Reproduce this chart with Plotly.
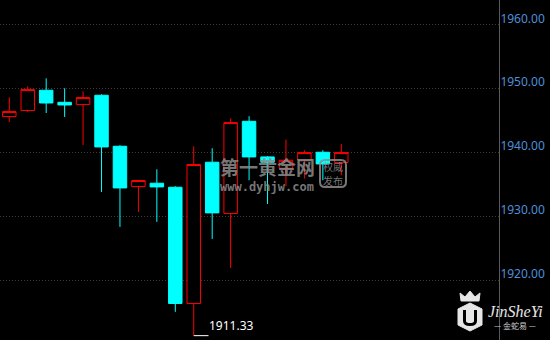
import plotly.graph_objects as go

# ---- data ----
idx = list(range(19))
opens  = [1945.58, 1946.52, 1949.69, 1947.81, 1947.45, 1948.91, 1940.94, 1934.64, 1935.16, 1934.53,
          1916.36, 1938.44, 1930.42, 1944.84, 1939.27, 1937.50, 1938.75, 1940.00, 1938.39]
highs  = [1948.59, 1950.31, 1951.56, 1950.00, 1949.53, 1949.06, 1941.09, 1935.58, 1937.34, 1934.69,
          1940.94, 1940.63, 1945.27, 1945.63, 1939.40, 1941.98, 1940.31, 1940.31, 1941.30]
lows   = [1944.73, 1946.30, 1946.14, 1945.52, 1941.14, 1933.80, 1928.33, 1930.67, 1929.11, 1915.05,
          1911.33, 1926.45, 1921.92, 1935.63, 1931.92, 1934.70, 1935.90, 1935.63, 1936.40]
closes = [1946.36, 1949.80, 1947.70, 1947.39, 1948.55, 1940.83, 1934.42, 1935.58, 1934.58, 1916.36,
          1938.08, 1930.52, 1944.64, 1939.27, 1938.44, 1938.75, 1939.95, 1938.17, 1939.95]
tick_vals = [1920, 1930, 1940, 1950, 1960]
tick_text = ["1920.00", "1930.00", "1940.00", "1950.00", "1960.00"]
low_label = "1911.33"

RED = "#ff0000"
CYAN = "#00ffff"

fig = go.Figure()
fig.add_trace(go.Candlestick(
    x=idx, open=opens, high=highs, low=lows, close=closes,
    increasing=dict(line=dict(color=RED, width=1), fillcolor="#000000"),
    decreasing=dict(line=dict(color=CYAN, width=1), fillcolor=CYAN),
    whiskerwidth=0, hoverinfo="skip", showlegend=False,
))

# low marker
imin = lows.index(min(lows))
fig.add_shape(type="line", xref="x", yref="y", x0=imin, x1=imin + 0.8,
              y0=min(lows), y1=min(lows), line=dict(color="#ffffff", width=1))
fig.add_annotation(x=imin + 0.8, y=min(lows), xref="x", yref="y", text=low_label,
                   showarrow=False, xanchor="left", yanchor="bottom", xshift=-2, yshift=0,
                   font=dict(family="Noto Sans", size=12, color="#ffffff"))

# watermark
wm = "rgba(140,140,140,0.85)"
def px(x):
    return x / 499.0
def py(y):
    return 1 - y / 340.0
def ann(x, y, text, yanchor="middle", **font):
    fig.add_annotation(x=px(x), y=py(y), xref="paper", yref="paper", text=text,
                       showarrow=False, xanchor="center", yanchor=yanchor, borderpad=0,
                       font=font)

ann(267, 166, "<b>第一黄金网</b>", family="Noto Sans CJK SC", size=19, color=wm)
ann(267, 187, "<b>www.dyhjw.com</b>", family="DejaVu Sans Mono", size=12, color=wm)
x0, x1, y0, y1, r = 320, 346, 160, 187, 5
fig.add_shape(type="path", xref="paper", yref="paper",
              path=(f"M {px(x0+r)},{py(y0)} L {px(x1-r)},{py(y0)} Q {px(x1)},{py(y0)} {px(x1)},{py(y0+r)} "
                    f"L {px(x1)},{py(y1-r)} Q {px(x1)},{py(y1)} {px(x1-r)},{py(y1)} "
                    f"L {px(x0+r)},{py(y1)} Q {px(x0)},{py(y1)} {px(x0)},{py(y1-r)} "
                    f"L {px(x0)},{py(y0+r)} Q {px(x0)},{py(y0)} {px(x0+r)},{py(y0)} Z"),
              line=dict(color=wm, width=2), layer="above")
ann(333, 166.5, "权威", family="Noto Sans CJK SC", size=10, color=wm)
ann(333, 180.5, "发布", family="Noto Sans CJK SC", size=10, color=wm)

# logo bottom right
LG = "#e6e6e6"
fig.add_shape(type="path", xref="paper", yref="paper",
              path=(f"M {px(470)},{py(303)} L {px(482)},{py(309)} L {px(482)},{py(325)} L {px(470)},{py(331)} "
                    f"L {px(458)},{py(325)} L {px(458)},{py(309)} Z"),
              fillcolor=LG, line=dict(color=LG, width=1), layer="above")
fig.add_shape(type="path", xref="paper", yref="paper",
              path=(f"M {px(463)},{py(310)} L {px(463)},{py(321)} Q {px(463)},{py(326)} {px(470)},{py(326)} "
                    f"Q {px(477)},{py(326)} {px(477)},{py(321)} L {px(477)},{py(310)} L {px(474)},{py(310)} "
                    f"L {px(474)},{py(321)} Q {px(474)},{py(323)} {px(470)},{py(323)} Q {px(466)},{py(323)} "
                    f"{px(466)},{py(321)} L {px(466)},{py(310)} Z"),
              fillcolor="#000000", line=dict(color="#000000", width=0), layer="above")
fig.add_shape(type="path", xref="paper", yref="paper",
              path=(f"M {px(461)},{py(301)} L {px(460)},{py(293)} L {px(465)},{py(297)} L {px(470)},{py(291)} "
                    f"L {px(475)},{py(297)} L {px(480)},{py(293)} L {px(479)},{py(301)} Z"),
              fillcolor=LG, line=dict(color=LG, width=1), layer="above")
fig.add_annotation(x=px(515), y=py(311), xref="paper", yref="paper", text="<i>JinSheYi</i>",
                   showarrow=False, xanchor="center", yanchor="middle", borderpad=0,
                   font=dict(family="Liberation Serif", size=16, color=LG))
fig.add_annotation(x=px(515), y=py(325), xref="paper", yref="paper", text="— 金蛇易 —",
                   showarrow=False, xanchor="center", yanchor="middle", borderpad=0,
                   font=dict(family="Noto Sans CJK SC", size=8, color="#cfcfcf"))

fig.update_layout(
    width=550, height=340,
    margin=dict(l=0, r=51, t=0, b=0),
    paper_bgcolor="#000000", plot_bgcolor="#000000",
    boxgap=0.27, boxgroupgap=0,
    xaxis=dict(range=[-0.504, 26.55], visible=False, rangeslider=dict(visible=False),
               showgrid=False, zeroline=False),
    yaxis=dict(range=[1910.65, 1963.8], side="right", tickmode="array",
               tickvals=tick_vals, ticktext=tick_text, showgrid=True,
               gridcolor="#3c3c3c", griddash="1px,2px", gridwidth=1, zeroline=False,
               showline=True, linecolor="#5a5a5a", linewidth=1, mirror=False,
               ticks="", ticklen=0, ticklabelshift=-6, ticklabelstandoff=-2,
               tickfont=dict(family="Noto Sans", size=12, color="#4f8fd8")),
    hovermode=False,
)

fig.write_html("out.html")
